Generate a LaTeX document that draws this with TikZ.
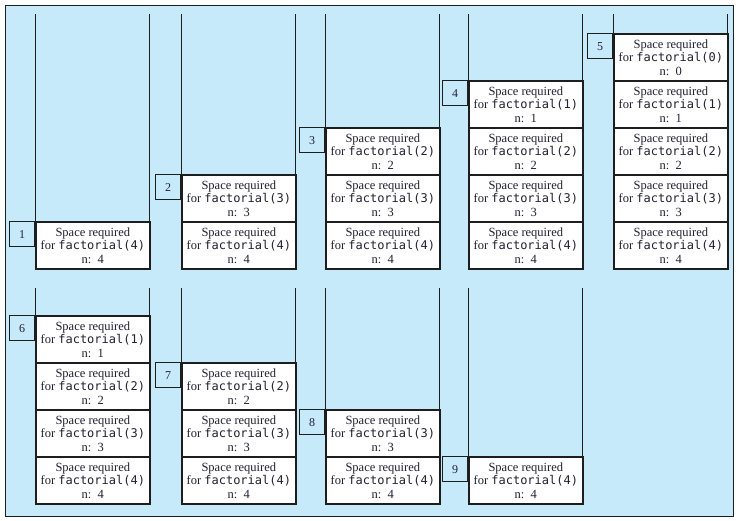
\documentclass[tikz,border=0pt]{standalone}
\usepackage{fontspec}
\setmainfont{Liberation Serif}
\setmonofont{DejaVu Sans Mono}[Scale=0.96]
\definecolor{bgblue}{RGB}{199,234,250}
\definecolor{txt}{RGB}{35,32,50}
\definecolor{ln}{RGB}{30,30,30}
\tikzset{
  framebox/.style={draw=ln, line width=0.8pt, fill=bgblue},
  colline/.style={draw=ln, line width=0.8pt},
  stackbox/.style={draw=ln, line width=1.7pt, fill=white, minimum width=114pt, minimum height=47pt,
    inner sep=0pt, align=center, text=txt, font=\fontsize{12.5}{13.6}\selectfont, anchor=south west},
  numbox/.style={draw=ln, line width=0.7pt, minimum width=25pt, minimum height=25pt, inner sep=0pt,
    text=txt, font=\fontsize{12}{13}\selectfont, anchor=north east}
}
\begin{document}
\begin{tikzpicture}[x=1pt,y=-1pt]
\useasboundingbox (0,0) rectangle (739,520);
\draw[framebox] (5,5) rectangle (733,516);
% row 1
\foreach \j/\xl in {1/35,2/181,3/325,4/468,5/613}{
  \coordinate (t1l\j) at (\xl,14);
  \coordinate (b1l\j) at (\xl,270);
  \coordinate (t1r\j) at (\xl+114,14);
  \coordinate (b1r\j) at (\xl+114,270);
  \draw[colline] (t1l\j) -- (b1l\j);
  \draw[colline] (t1r\j) -- (b1r\j);
  \foreach \k in {1,...,\j}{
    \pgfmathtruncatemacro{\v}{5-\k}
    \node[stackbox] (r1c\j b\k) at (\xl,270-47*\k+47) {Space required\\for \texttt{factorial(\v)}\\n:~~\v};
  }
  \node[numbox] (n1c\j) at (r1c\j b\j.north west) {\j};
}
% row 2
\foreach \j/\xl in {1/35,2/181,3/325,4/468}{
  \coordinate (t2l\j) at (\xl,288);
  \coordinate (b2l\j) at (\xl,505);
  \coordinate (t2r\j) at (\xl+114,288);
  \coordinate (b2r\j) at (\xl+114,505);
  \draw[colline] (t2l\j) -- (b2l\j);
  \draw[colline] (t2r\j) -- (b2r\j);
  \pgfmathtruncatemacro{\top}{5-\j}
  \pgfmathtruncatemacro{\lab}{5+\j}
  \foreach \k in {1,...,\top}{
    \pgfmathtruncatemacro{\v}{5-\k}
    \node[stackbox] (r2c\j b\k) at (\xl,505-47*\k+47) {Space required\\for \texttt{factorial(\v)}\\n:~~\v};
  }
  \node[numbox] (n2c\j) at (r2c\j b\top.north west) {\lab};
}
\end{tikzpicture}
\end{document}
